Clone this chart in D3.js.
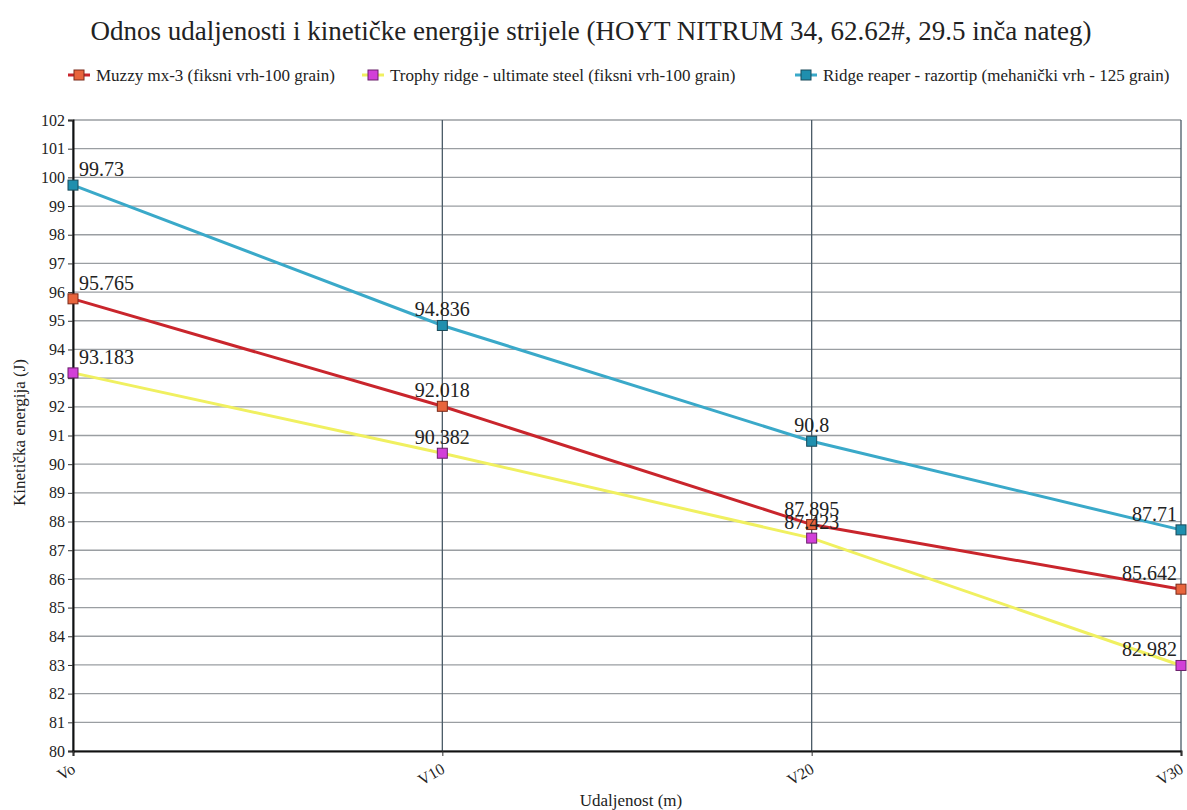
<!DOCTYPE html>
<html>
<head>
<meta charset="utf-8">
<script src="https://cdn.jsdelivr.net/npm/d3@7"></script>
<style>
  body { margin: 0; background: #fff; }
  svg text { font-family: "Liberation Serif", "Times New Roman", Tinos, "DejaVu Serif", "Noto Serif", serif !important; fill: #222; }
</style>
</head>
<body>
<div id="chart"></div>
<script>
// categories and series
var categories = ["Vo", "V10", "V20", "V30"];
var muzzy = [95.765, 92.018, 87.895, 85.642];
var trophy = [93.183, 90.382, 87.423, 82.982];
var ridge = [99.73, 94.836, 90.8, 87.71];
var yTicks = d3.range(80, 103, 1);

var series = [
  { name: "Muzzy mx-3 (fiksni vrh-100 grain)", values: muzzy, line: "#c9252c", fill: "#e8643c", stroke: "#7a2a1a" },
  { name: "Trophy ridge - ultimate steel (fiksni vrh-100 grain)", values: trophy, line: "#f0f060", fill: "#d23fd8", stroke: "#6a206a" },
  { name: "Ridge reaper - razortip (mehanički vrh - 125 grain)", values: ridge, line: "#3aa9c9", fill: "#1f8fae", stroke: "#1a4a5a" }
];

var width = 1187, height = 810;
var margin = {top: 120, right: 6, bottom: 59, left: 73};
var w = width - margin.left - margin.right,
    h = height - margin.top - margin.bottom;

var svg = d3.select("#chart").append("svg")
    .attr("width", width).attr("height", height);

// title
svg.append("text")
    .attr("x", 591).attr("y", 40)
    .attr("text-anchor", "middle")
    .style("font-size", "27px")
    .text("Odnos udaljenosti i kinetičke energije strijele (HOYT NITRUM 34, 62.62#, 29.5 inča nateg)");

// legend
var legendX = [68, 362, 795];
var legend = svg.selectAll(".legend").data(series).enter().append("g")
    .attr("transform", function(d, i) { return "translate(" + legendX[i] + ",75)"; });
legend.append("line").attr("x1", 0).attr("x2", 22)
    .attr("stroke", function(d) { return d.line; }).attr("stroke-width", 3);
legend.append("rect").attr("x", 6).attr("y", -5).attr("width", 10).attr("height", 10)
    .attr("fill", function(d) { return d.fill; })
    .attr("stroke", function(d) { return d.stroke; }).attr("stroke-width", 1);
legend.append("text").attr("x", 28).attr("y", 5.5)
    .style("font-size", "17px")
    .text(function(d) { return d.name; });

var g = svg.append("g")
    .attr("transform", "translate(" + margin.left + "," + margin.top + ")");

var xScale = d3.scalePoint().domain(categories).range([0, w]);
var yScale = d3.scaleLinear().domain([80, 102]).range([h, 0]);

// horizontal grid
g.selectAll(".hgrid").data(yTicks).enter().append("line")
    .attr("x1", 0).attr("x2", w)
    .attr("y1", function(d) { return yScale(d); })
    .attr("y2", function(d) { return yScale(d); })
    .attr("stroke", "#9a9ea2").attr("stroke-width", 1.3);

// vertical grid
g.selectAll(".vgrid").data(categories).enter().append("line")
    .attr("x1", function(d) { return xScale(d); })
    .attr("x2", function(d) { return xScale(d); })
    .attr("y1", 0).attr("y2", h)
    .attr("stroke", "#4a5a66").attr("stroke-width", 1.3);

// y axis
var yAxis = d3.axisLeft(yScale).tickValues(yTicks).tickSize(5).tickPadding(3);
var yg = g.append("g").call(yAxis);
yg.select(".domain").attr("stroke", "#111").attr("stroke-width", 2);
yg.selectAll(".tick line").attr("stroke", "#333");
yg.selectAll(".tick text").style("font-size", "16px").attr("fill", "#333");

// x axis
var xAxis = d3.axisBottom(xScale).tickSize(5).tickPadding(2);
var xg = g.append("g").attr("transform", "translate(0," + h + ")").call(xAxis);
xg.select(".domain").attr("stroke", "#111").attr("stroke-width", 2);
xg.selectAll(".tick line").attr("stroke", "#333");
xg.selectAll(".tick text")
    .style("font-size", "16px").attr("fill", "#333")
    .attr("text-anchor", "end")
    .attr("y", 0).attr("dy", 0)
    .attr("transform", "translate(3,21) rotate(-30)");

// axis titles
svg.append("text")
    .attr("transform", "translate(25," + (margin.top + h / 2 - 3) + ") rotate(-90)")
    .attr("text-anchor", "middle")
    .style("font-size", "17px")
    .text("Kinetička energija (J)");
svg.append("text")
    .attr("x", 631).attr("y", 806)
    .attr("text-anchor", "middle")
    .style("font-size", "17px")
    .text("Udaljenost (m)");

// lines
var valueline = d3.line()
    .x(function(d, i) { return xScale(categories[i]); })
    .y(function(d) { return yScale(d); });

series.forEach(function(s) {
    g.append("path")
        .attr("d", valueline(s.values))
        .attr("fill", "none")
        .attr("stroke", s.line)
        .attr("stroke-width", 3);
});

// markers and labels
series.forEach(function(s) {
    g.selectAll(null).data(s.values).enter().append("rect")
        .attr("x", function(d, i) { return xScale(categories[i]) - 5; })
        .attr("y", function(d) { return yScale(d) - 5; })
        .attr("width", 10).attr("height", 10)
        .attr("fill", s.fill)
        .attr("stroke", s.stroke).attr("stroke-width", 1);

    g.selectAll(null).data(s.values).enter().append("text")
        .attr("x", function(d, i) {
            var x = xScale(categories[i]);
            if (i === 0) return x + 6;
            if (i === categories.length - 1) return x - 4;
            return x;
        })
        .attr("y", function(d) { return yScale(d) - 9; })
        .attr("text-anchor", function(d, i) {
            if (i === 0) return "start";
            if (i === categories.length - 1) return "end";
            return "middle";
        })
        .style("font-size", "20px")
        .text(function(d) { return d; });
});
</script>
</body>
</html>
